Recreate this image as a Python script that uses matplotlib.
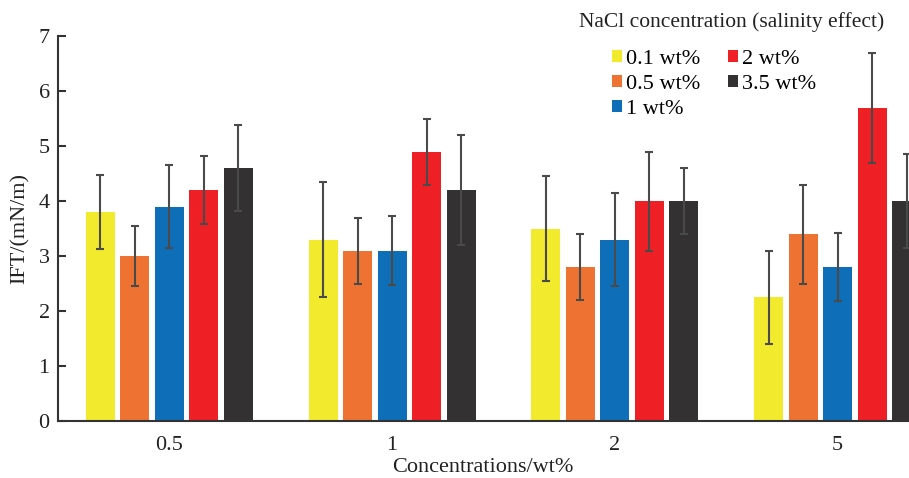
import numpy as np
import matplotlib
import matplotlib.pyplot as plt

matplotlib.use('Agg')

plt.rcParams['font.family'] = ['Liberation Serif', 'DejaVu Serif']

groups = ['0.5', '1', '2', '5']
series = ['0.1 wt%', '0.5 wt%', '1 wt%', '2 wt%', '3.5 wt%']
colors = ['#F2EA2C', '#EE7333', '#0F6EB8', '#EE2026', '#333132']

# IFT means per salinity, one list per series (over groups 0.5, 1, 2, 5)
ift_01 = [3.8, 3.3, 3.5, 2.25]
ift_05 = [3.0, 3.1, 2.8, 3.4]
ift_1 = [3.9, 3.1, 3.3, 2.8]
ift_2 = [4.2, 4.9, 4.0, 5.7]
ift_35 = [4.6, 4.2, 4.0, 4.0]

err_01 = [0.68, 1.05, 0.95, 0.85]
err_05 = [0.54, 0.6, 0.6, 0.9]
err_1 = [0.75, 0.62, 0.85, 0.62]
err_2 = [0.61, 0.6, 0.9, 1.0]
err_35 = [0.78, 1.0, 0.6, 0.85]

values = [ift_01, ift_05, ift_1, ift_2, ift_35]
errors = [err_01, err_05, err_1, err_2, err_35]

fig = plt.figure(figsize=(9.09, 4.78), dpi=100)
ax = fig.add_axes([58 / 909, 57 / 478, (949 - 58) / 909, (421 - 36) / 478])

x = np.arange(len(groups))
step = 0.155
width = 0.13
for i, (vals, errs) in enumerate(zip(values, errors)):
    ax.bar(x + (i - 2) * step, vals, width, color=colors[i], label=series[i],
           yerr=errs, error_kw=dict(ecolor='#4a4a4a', elinewidth=1.5, capsize=3, capthick=1.5),
           zorder=2)

ax.set_xlim(-0.5, 3.5)
ax.set_ylim(0, 7)
ax.set_xticks(x)
ax.set_xticklabels(groups)
ax.set_yticks(range(8))

for s in ['top', 'right']:
    ax.spines[s].set_visible(False)
for s in ['left', 'bottom']:
    ax.spines[s].set_color('#333333')
    ax.spines[s].set_linewidth(1.5)

ax.tick_params(axis='both', direction='in', labelsize=16, colors='#333333',
               labelcolor='#222222', width=1.5)
ax.tick_params(axis='y', length=6, pad=6)
ax.tick_params(axis='x', length=7, pad=11)

ax.set_ylabel('IFT/(mN/m)', fontsize=16, color='#222222', labelpad=6)
fig.text(483 / 909, 11 / 478, 'Concentrations/wt%', fontsize=16, color='#222222',
         ha='center', va='center')

# legend title drawn separately to get the wider gap of the original
fig.text(732 / 909, 1 - 22 / 478, 'NaCl concentration (salinity effect)', fontsize=15.5,
         color='#222222', ha='center', va='center')
leg = ax.legend(ncol=2, loc='upper left', bbox_to_anchor=(612 / 909, 1 - 50 / 478),
                bbox_transform=fig.transFigure, frameon=False, fontsize=16,
                handlelength=0.45, handleheight=0.45, handletextpad=0.2,
                columnspacing=1.23, labelspacing=0.27, borderpad=0, borderaxespad=0)

fig.savefig('out.png', dpi=100)
